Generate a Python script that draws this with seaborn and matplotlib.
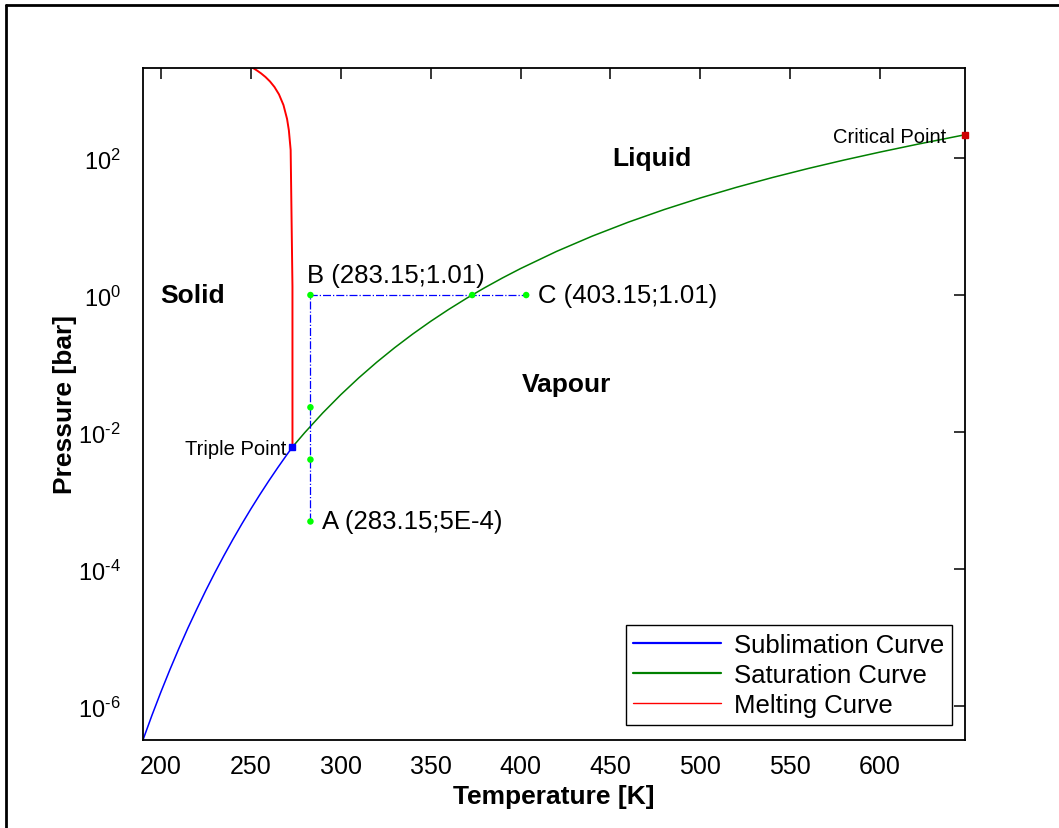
import numpy as np
import pandas as pd
import matplotlib
matplotlib.use("Agg")
import matplotlib.pyplot as plt
from matplotlib.lines import Line2D
from matplotlib.ticker import NullLocator, FuncFormatter
import seaborn as sns

# Phase boundaries of water (temperature in K, pressure in bar)
sub_T = [190.0, 195.0, 200.0, 205.0, 210.0, 215.0, 220.0, 225.0, 230.0, 235.0,
         240.0, 245.0, 250.0, 255.0, 260.0, 265.0, 270.0, 273.16]
sub_p = [3.23e-7, 7.4e-7, 1.626e-6, 3.44e-6, 7.02e-6, 1.39e-5, 2.648e-5, 4.94e-5,
         8.95e-5, 1.581e-4, 2.728e-4, 4.60e-4, 7.60e-4, 1.231e-3, 1.958e-3,
         3.058e-3, 4.70e-3, 6.1166e-3]

sat_T = [273.16, 280.0, 290.0, 300.0, 310.0, 320.0, 330.0, 340.0, 350.0, 360.0,
         370.0, 380.0, 390.0, 400.0, 420.0, 440.0, 460.0, 480.0, 500.0, 520.0,
         540.0, 560.0, 580.0, 600.0, 620.0, 640.0, 647.096]
sat_p = [6.1166e-3, 9.918e-3, 1.920e-2, 3.537e-2, 6.231e-2, 0.10546, 0.17213,
         0.27188, 0.41682, 0.62194, 0.90535, 1.2885, 1.7964, 2.4577, 4.3730,
         7.3367, 11.709, 17.905, 26.392, 37.690, 52.369, 71.062, 94.472, 123.45,
         159.01, 202.65, 220.64]

melt_T = [273.16, 273.15, 272.15, 271.15, 270.15, 268.15, 265.65, 263.15,
          260.65, 258.15, 255.65, 253.15, 251.165]
melt_p = [6.1166e-3, 1.352, 132.3, 256.75, 375.7, 600.0, 859.1, 1100.0,
          1326.0, 1539.6, 1742.8, 1936.9, 2085.5]

# Isothermal compression A -> B, then isobaric heating B -> C
path_T = [283.15, 283.15, 283.15, 283.15, 373.12, 403.15]
path_p = [5e-4, 4.0e-3, 2.32e-2, 1.01, 1.01, 1.01]

triple_T, triple_p = 273.16, 6.1166e-3
critical_T, critical_p = 647.096, 220.64

y_ticks = [1e-6, 1e-4, 1e-2, 1e0, 1e2]
x_ticks = [200, 250, 300, 350, 400, 450, 500, 550, 600]

sns.set_style("white")
plt.rcParams["font.family"] = ["Liberation Sans", "DejaVu Sans"]
plt.rcParams["mathtext.fontset"] = "custom"
plt.rcParams["mathtext.rm"] = "Liberation Sans"
plt.rcParams["mathtext.it"] = "Liberation Sans:italic"
plt.rcParams["mathtext.bf"] = "Liberation Sans:bold"
plt.rcParams["text.color"] = "black"
plt.rcParams["axes.labelcolor"] = "black"
plt.rcParams["xtick.color"] = "black"
plt.rcParams["ytick.color"] = "black"

fig = plt.figure(figsize=(10.59, 8.29), dpi=100)
ax = fig.add_axes([0.135, 0.1062, 0.776, 0.8106])

sub_df = pd.DataFrame({"T": sub_T, "p": sub_p})
sat_df = pd.DataFrame({"T": sat_T, "p": sat_p})
melt_df = pd.DataFrame({"T": melt_T, "p": melt_p})
path_df = pd.DataFrame({"T": path_T, "p": path_p})

sns.lineplot(data=sub_df, x="T", y="p", ax=ax, color="#0000ff", lw=1.1,
             sort=False, estimator=None, label="Sublimation Curve")
sns.lineplot(data=sat_df, x="T", y="p", ax=ax, color="#008000", lw=1.1,
             sort=False, estimator=None, label="Saturation Curve")
sns.lineplot(data=melt_df, x="T", y="p", ax=ax, color="#ff0000", lw=1.4,
             sort=False, estimator=None, label="Melting Curve")
sns.lineplot(data=path_df, x="T", y="p", ax=ax, color="#0000ff", lw=0.9,
             ls="-.", sort=False, estimator=None, legend=False)
sns.scatterplot(data=path_df, x="T", y="p", ax=ax, color="#00ff00", s=22,
                edgecolor="none", zorder=5, legend=False)

ax.plot([triple_T], [triple_p], marker="s", ms=4.5, color="#0000ff", ls="none", zorder=6)
ax.plot([critical_T], [critical_p], marker="s", ms=4.5, color="#cc0000", ls="none",
        zorder=6, clip_on=False)

ax.set_yscale("log")
ax.set_xlim(sub_T[0], critical_T)
ax.set_ylim(sub_p[0], melt_p[-1])
ax.set_xticks(x_ticks)
ax.set_yticks(y_ticks)


def pow10_label(v, _pos):
    e = int(round(np.log10(v)))
    if e < 0:
        return r"$10^{\text{-}%d}$" % (-e)
    return r"$10^{%d}$" % e


ax.yaxis.set_major_formatter(FuncFormatter(pow10_label))
ax.yaxis.set_minor_locator(NullLocator())
ax.xaxis.set_minor_locator(NullLocator())

ax.tick_params(axis="both", which="major", direction="in", length=8, width=1.1,
               top=True, right=True, labelsize=18, colors="black")
ax.tick_params(axis="x", pad=10)
ax.tick_params(axis="y", pad=16, labelsize=17)
for sp in ax.spines.values():
    sp.set_visible(True)
    sp.set_color("black")
    sp.set_linewidth(1.3)

ax.set_xlabel("Temperature [K]", fontsize=19, fontweight="bold")
ax.set_ylabel("Pressure [bar]", fontsize=19, fontweight="bold")
ax.xaxis.set_label_coords(0.5, -0.066)
ax.yaxis.set_label_coords(-0.08, 0.5)

# Region names
ax.text(199.5, 1.0, "Solid", fontsize=19, fontweight="bold", ha="left", va="center")
ax.text(451, 100, "Liquid", fontsize=19, fontweight="bold", ha="left", va="center")
ax.text(400.5, 0.05, "Vapour", fontsize=19, fontweight="bold", ha="left", va="center")

# State labels
ax.text(281, 2.0, "B (283.15;1.01)", fontsize=18.5, ha="left", va="center")
ax.text(409.8, 1.0, "C (403.15;1.01)", fontsize=18.5, ha="left", va="center")
ax.text(289.8, 5.1e-4, "A (283.15;5E-4)", fontsize=18.5, ha="left", va="center")
ax.text(269.6, 5.9e-3, "Triple Point", fontsize=14.5, ha="right", va="center")
ax.text(636.8, 2.1e2, "Critical Point", fontsize=14.5, ha="right", va="center")

handles = ax.get_legend_handles_labels()[0][:3]
leg = ax.legend(handles=handles, labels=["Sublimation Curve", "Saturation Curve", "Melting Curve"],
                loc="lower right", bbox_to_anchor=(0.984, 0.022), borderaxespad=0,
                fontsize=18.5, frameon=True, fancybox=False, framealpha=1,
                edgecolor="black", handlelength=3.4, handletextpad=0.5,
                labelspacing=0.25, borderpad=0.3)
leg.get_frame().set_linewidth(1.0)
for ln, w in zip(leg.get_lines(), [1.6, 1.6, 1.0]):
    ln.set_linewidth(w)

# Outer figure frame
fig.add_artist(Line2D([6 / 1059, 6 / 1059], [0, 1 - 6 / 829], transform=fig.transFigure,
                      color="black", lw=2))
fig.add_artist(Line2D([6 / 1059, 1], [1 - 6 / 829, 1 - 6 / 829], transform=fig.transFigure,
                      color="black", lw=2))

fig.savefig("out.png", dpi=100, facecolor="white")
